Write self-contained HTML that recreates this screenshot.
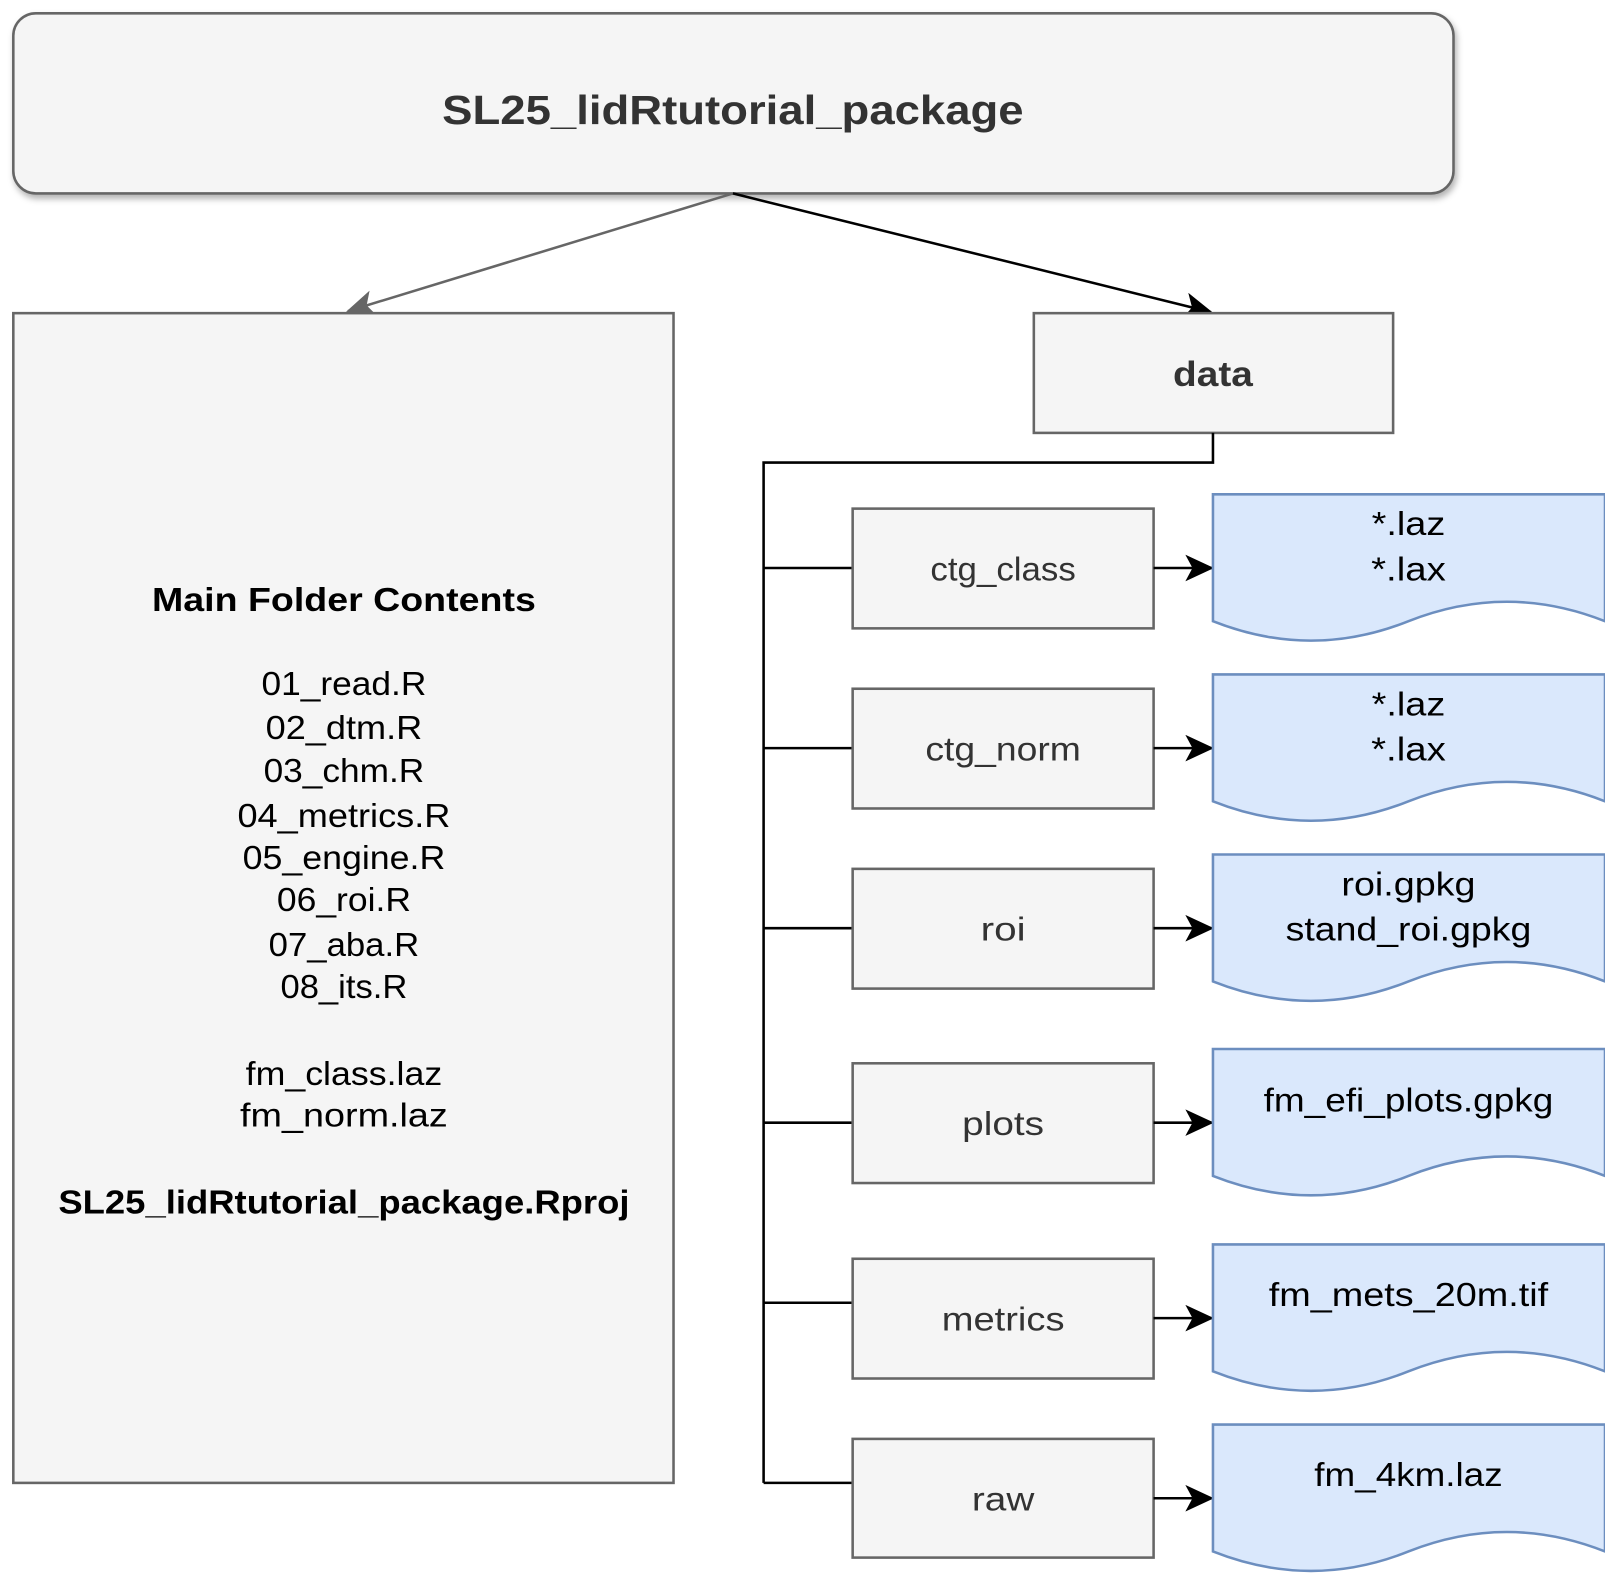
<!DOCTYPE html>
<html><head><meta charset="utf-8"><style>
html,body{margin:0;padding:0;background:#fff;}
svg{display:block;}
text{font-family:"Liberation Sans","DejaVu Sans",sans-serif;}
</style></head><body>
<svg width="1605" height="1575" viewBox="0 0 1568 1539" preserveAspectRatio="none" xmlns="http://www.w3.org/2000/svg">
<defs>
<filter id="sh" x="-5%" y="-20%" width="110%" height="150%"><feDropShadow dx="2" dy="4" stdDeviation="3" flood-color="#000" flood-opacity="0.3"/></filter>
<marker id="ab2" markerWidth="28" markerHeight="26" refX="26" refY="13" orient="auto" markerUnits="userSpaceOnUse"><path d="M0,0 L28,13 L0,26 L7,13 Z" fill="#000"/></marker>
<marker id="ag2" markerWidth="28" markerHeight="26" refX="26" refY="13" orient="auto" markerUnits="userSpaceOnUse"><path d="M0,0 L28,13 L0,26 L7,13 Z" fill="#666"/></marker>
</defs>
<rect x="13" y="13" width="1407" height="176" rx="22" fill="#f5f5f5" stroke="#666" stroke-width="2.5" filter="url(#sh)"/>
<text x="716" y="121" text-anchor="middle" font-size="40" font-weight="bold" fill="#333" textLength="568" lengthAdjust="spacingAndGlyphs">SL25_lidRtutorial_package</text>
<line x1="716" y1="189" x2="340" y2="304" stroke="#666" stroke-width="2.5" marker-end="url(#ag2)"/>
<line x1="716" y1="189" x2="1183" y2="305" stroke="#000" stroke-width="2.5" marker-end="url(#ab2)"/>
<rect x="13" y="306" width="645" height="1143" fill="#f5f5f5" stroke="#666" stroke-width="2.5"/>
<g text-anchor="middle" font-size="33" fill="#000" lengthAdjust="spacingAndGlyphs">
<text x="336" y="597" font-weight="bold" textLength="375" lengthAdjust="spacingAndGlyphs">Main Folder Contents</text>
<text x="336" y="679" textLength="161" lengthAdjust="spacingAndGlyphs">01_read.R</text>
<text x="336" y="722" textLength="153" lengthAdjust="spacingAndGlyphs">02_dtm.R</text>
<text x="336" y="764" textLength="157" lengthAdjust="spacingAndGlyphs">03_chm.R</text>
<text x="336" y="808" textLength="208" lengthAdjust="spacingAndGlyphs">04_metrics.R</text>
<text x="336" y="849" textLength="198" lengthAdjust="spacingAndGlyphs">05_engine.R</text>
<text x="336" y="890" textLength="131" lengthAdjust="spacingAndGlyphs">06_roi.R</text>
<text x="336" y="934" textLength="147" lengthAdjust="spacingAndGlyphs">07_aba.R</text>
<text x="336" y="975" textLength="124" lengthAdjust="spacingAndGlyphs">08_its.R</text>
<text x="336" y="1060" textLength="192" lengthAdjust="spacingAndGlyphs">fm_class.laz</text>
<text x="336" y="1101" textLength="203" lengthAdjust="spacingAndGlyphs">fm_norm.laz</text>
<text x="336" y="1186" font-weight="bold" textLength="558" lengthAdjust="spacingAndGlyphs">SL25_lidRtutorial_package.Rproj</text>
</g>
<rect x="1010" y="306" width="351" height="117" fill="#f5f5f5" stroke="#666" stroke-width="2.5"/>
<text x="1185" y="377" text-anchor="middle" font-size="34" font-weight="bold" fill="#333" textLength="78" lengthAdjust="spacingAndGlyphs">data</text>
<path d="M1185,423 V452 H746 V1449" fill="none" stroke="#000" stroke-width="2.5"/>
<g stroke="#000" stroke-width="2.5">
<line x1="746" y1="555" x2="833" y2="555"/>
<line x1="746" y1="731" x2="833" y2="731"/>
<line x1="746" y1="907" x2="833" y2="907"/>
<line x1="746" y1="1097" x2="833" y2="1097"/>
<line x1="746" y1="1273" x2="833" y2="1273"/>
<line x1="746" y1="1449" x2="833" y2="1449"/>
</g>
<g fill="#f5f5f5" stroke="#666" stroke-width="2.5">
<rect x="833" y="497" width="294" height="117"/>
<rect x="833" y="673" width="294" height="117"/>
<rect x="833" y="849" width="294" height="117"/>
<rect x="833" y="1039" width="294" height="117"/>
<rect x="833" y="1230" width="294" height="117"/>
<rect x="833" y="1406" width="294" height="116"/>
</g>
<g text-anchor="middle" font-size="33" fill="#333">
<text x="980" y="567" textLength="142" lengthAdjust="spacingAndGlyphs">ctg_class</text>
<text x="980" y="743" textLength="152" lengthAdjust="spacingAndGlyphs">ctg_norm</text>
<text x="980" y="919" textLength="44" lengthAdjust="spacingAndGlyphs">roi</text>
<text x="980" y="1109" textLength="80" lengthAdjust="spacingAndGlyphs">plots</text>
<text x="980" y="1300" textLength="120" lengthAdjust="spacingAndGlyphs">metrics</text>
<text x="980" y="1476" textLength="61" lengthAdjust="spacingAndGlyphs">raw</text>
</g>
<g stroke="#000" stroke-width="2.5">
<line x1="1127" y1="555" x2="1184" y2="555" marker-end="url(#ab2)"/>
<line x1="1127" y1="731" x2="1184" y2="731" marker-end="url(#ab2)"/>
<line x1="1127" y1="907" x2="1184" y2="907" marker-end="url(#ab2)"/>
<line x1="1127" y1="1097" x2="1184" y2="1097" marker-end="url(#ab2)"/>
<line x1="1127" y1="1288" x2="1184" y2="1288" marker-end="url(#ab2)"/>
<line x1="1127" y1="1464" x2="1184" y2="1464" marker-end="url(#ab2)"/>
</g>
<g fill="#dae8fc" stroke="#6c8ebf" stroke-width="2.5">
<path transform="translate(1185,483)" d="M0,0 H383 V124 Q287,86 191,124 Q96,162 0,124 Z"/>
<path transform="translate(1185,659)" d="M0,0 H383 V124 Q287,86 191,124 Q96,162 0,124 Z"/>
<path transform="translate(1185,835)" d="M0,0 H383 V124 Q287,86 191,124 Q96,162 0,124 Z"/>
<path transform="translate(1185,1025)" d="M0,0 H383 V124 Q287,86 191,124 Q96,162 0,124 Z"/>
<path transform="translate(1185,1216)" d="M0,0 H383 V124 Q287,86 191,124 Q96,162 0,124 Z"/>
<path transform="translate(1185,1392)" d="M0,0 H383 V124 Q287,86 191,124 Q96,162 0,124 Z"/>
</g>
<g text-anchor="middle" font-size="33" fill="#000">
<text x="1376" y="523" textLength="72" lengthAdjust="spacingAndGlyphs">*.laz</text>
<text x="1376" y="567" textLength="73" lengthAdjust="spacingAndGlyphs">*.lax</text>
<text x="1376" y="699" textLength="72" lengthAdjust="spacingAndGlyphs">*.laz</text>
<text x="1376" y="743" textLength="73" lengthAdjust="spacingAndGlyphs">*.lax</text>
<text x="1376" y="875" textLength="131" lengthAdjust="spacingAndGlyphs">roi.gpkg</text>
<text x="1376" y="919" textLength="240" lengthAdjust="spacingAndGlyphs">stand_roi.gpkg</text>
<text x="1376" y="1086" textLength="283" lengthAdjust="spacingAndGlyphs">fm_efi_plots.gpkg</text>
<text x="1376" y="1276" textLength="273" lengthAdjust="spacingAndGlyphs">fm_mets_20m.tif</text>
<text x="1376" y="1452" textLength="184" lengthAdjust="spacingAndGlyphs">fm_4km.laz</text>
</g>
</svg>
</body></html>
